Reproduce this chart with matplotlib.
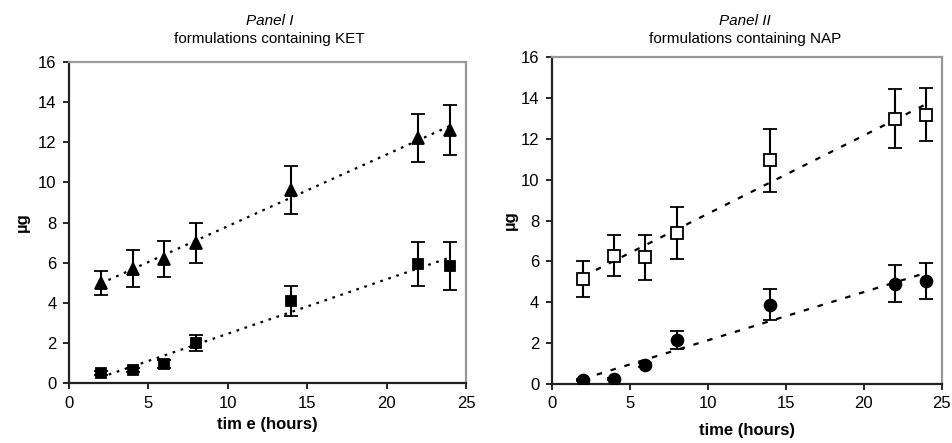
# plot.py

import numpy as np
import matplotlib.pyplot as plt
import matplotlib as mpl

mpl.use('Agg')
plt.rcParams['font.family'] = ['Liberation Sans', 'DejaVu Sans']

hours = [2, 4, 6, 8, 14, 22, 24]

# Panel I - KET
ket_tri = [5.0, 5.7, 6.2, 7.0, 9.6, 12.2, 12.6]
ket_tri_err = [0.6, 0.92, 0.9, 1.0, 1.2, 1.2, 1.25]
ket_sq = [0.5, 0.63, 0.93, 2.0, 4.09, 5.92, 5.85]
ket_sq_err = [0.12, 0.1, 0.2, 0.4, 0.75, 1.1, 1.2]

# Panel II - NAP
nap_sq = [5.14, 6.28, 6.21, 7.39, 10.94, 12.98, 13.18]
nap_sq_err = [0.9, 1.0, 1.1, 1.25, 1.55, 1.45, 1.3]
nap_circ = [0.21, 0.24, 0.91, 2.14, 3.88, 4.91, 5.02]
nap_circ_err = [0.05, 0.05, 0.1, 0.45, 0.75, 0.9, 0.88]

fig = plt.figure(figsize=(9.53, 4.43), dpi=100)
ax1 = fig.add_axes([0.0724, 0.1354, 0.4166, 0.7246])
ax2 = fig.add_axes([0.579, 0.1332, 0.409, 0.738])


def style(ax):
    ax.set_xlim(0, 25)
    ax.set_ylim(0, 16)
    ax.set_xticks([0, 5, 10, 15, 20, 25])
    ax.set_yticks(range(0, 17, 2))
    for s in ['left', 'bottom']:
        ax.spines[s].set_color('#222222')
        ax.spines[s].set_linewidth(1.6)
    for s in ['top', 'right']:
        ax.spines[s].set_color('#999999')
        ax.spines[s].set_linewidth(1.6)
    ax.tick_params(direction='out', length=4, width=1.2, labelsize=12,
                   top=False, right=False, pad=5)


def trend(ax, y, ls):
    k, b = np.polyfit(hours, y, 1)
    xs = np.array([hours[0], hours[-1]])
    ax.plot(xs, k * xs + b, color='black', linestyle=ls, linewidth=1.6, zorder=1)


def series(ax, y, err, marker, ms, face):
    ax.errorbar(hours, y, yerr=err, fmt=marker, ms=ms, mfc=face, mec='black',
                mew=1.3, ecolor='black', elinewidth=1.5, capsize=5, capthick=1.5,
                zorder=3)


trend(ax1, ket_tri, (0, (1.2, 2.6)))
trend(ax1, ket_sq, (0, (1.2, 2.6)))
series(ax1, ket_tri, ket_tri_err, '^', 8, 'black')
series(ax1, ket_sq, ket_sq_err, 's', 6.5, 'black')

trend(ax2, nap_sq, (0, (2.5, 4)))
trend(ax2, nap_circ, (0, (2.5, 4)))
series(ax2, nap_sq, nap_sq_err, 's', 8, 'white')
series(ax2, nap_circ, nap_circ_err, 'o', 8.5, 'black')

for ax in [ax1, ax2]:
    style(ax)

ax1.set_xlabel('tim e (hours)', fontsize=12, fontweight='bold', labelpad=5)
ax2.set_xlabel('time (hours)', fontsize=12, fontweight='bold', labelpad=8)
ax1.set_ylabel('µg', fontsize=12, fontweight='bold', labelpad=6)
ax2.set_ylabel('µg', fontsize=12, fontweight='bold', labelpad=2)

fig.text(0.283, 0.953, 'Panel I', ha='center', va='center', fontsize=11, style='italic')
fig.text(0.283, 0.912, 'formulations containing KET', ha='center', va='center', fontsize=11)
fig.text(0.782, 0.953, 'Panel II', ha='center', va='center', fontsize=11, style='italic')
fig.text(0.782, 0.912, 'formulations containing NAP', ha='center', va='center', fontsize=11)

fig.savefig('out.png', dpi=100)
